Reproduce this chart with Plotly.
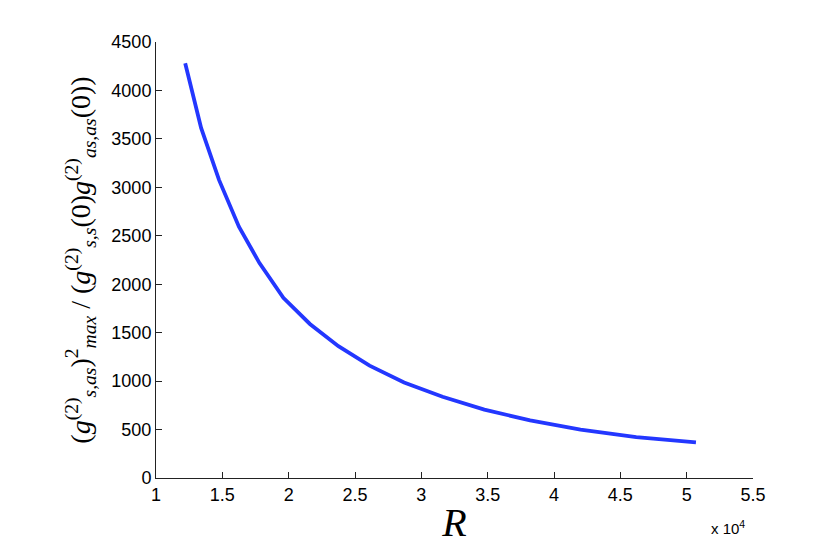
import plotly.graph_objects as go

# R in units of 10^4
R_vals = [1.22, 1.34, 1.475, 1.625, 1.78, 1.96, 2.16, 2.375, 2.61, 2.87, 3.16, 3.475, 3.82, 4.20, 4.62, 5.07]
ratio_vals = [4280, 3613, 3077, 2593, 2218, 1860, 1590, 1360, 1160, 985, 838, 705, 595, 500, 422, 367]

x_ticks = [1, 1.5, 2, 2.5, 3, 3.5, 4, 4.5, 5, 5.5]
x_ticklabels = ["1", "1.5", "2", "2.5", "3", "3.5", "4", "4.5", "5", "5.5"]
y_ticks = [0, 500, 1000, 1500, 2000, 2500, 3000, 3500, 4000, 4500]

fig = go.Figure()
fig.add_trace(go.Scatter(
    x=R_vals, y=ratio_vals, mode="lines",
    line=dict(color="rgb(35,55,255)", width=3.8),
    showlegend=False, hoverinfo="skip"))

axis_common = dict(
    showline=True, linecolor="#222", linewidth=1, mirror=False,
    ticks="inside", ticklen=6, tickcolor="#222", tickwidth=1,
    showgrid=False, zeroline=False,
    tickfont=dict(family="Liberation Sans, Arial, sans-serif", size=18, color="#000"),
)

fig.update_layout(
    width=830, height=550,
    margin=dict(l=148, r=85, t=34, b=79.5),
    paper_bgcolor="white", plot_bgcolor="white",
    xaxis=dict(range=[1, 5.5], tickvals=x_ticks, ticktext=x_ticklabels,
               title=dict(text="<i>R</i>", standoff=4,
                          font=dict(family="Liberation Serif, DejaVu Serif, serif", size=40, color="#000")),
               **axis_common),
    yaxis=dict(range=[0, 4500], tickvals=y_ticks,
               title=dict(text="(<i>g</i><sup>(2)</sup><sub><i>s,as</i></sub>)<sup>2</sup><sub><i>max</i></sub> /"
                               " (<i>g</i><sup>(2)</sup><sub><i>s,s</i></sub>(0)<i>g</i><sup>(2)</sup><sub><i>as,as</i></sub>(0))",
                          standoff=12,
                          font=dict(family="Liberation Serif, DejaVu Serif, serif", size=28, color="#000")),
               **axis_common),
)

fig.add_annotation(text="x 10<sup>4</sup>", xref="paper", yref="paper", x=1.0, y=0,
                   xanchor="right", yanchor="top", yshift=-38, xshift=-6, showarrow=False,
                   font=dict(family="Liberation Sans, Arial, sans-serif", size=15, color="#000"))

fig.write_html("out.html")
